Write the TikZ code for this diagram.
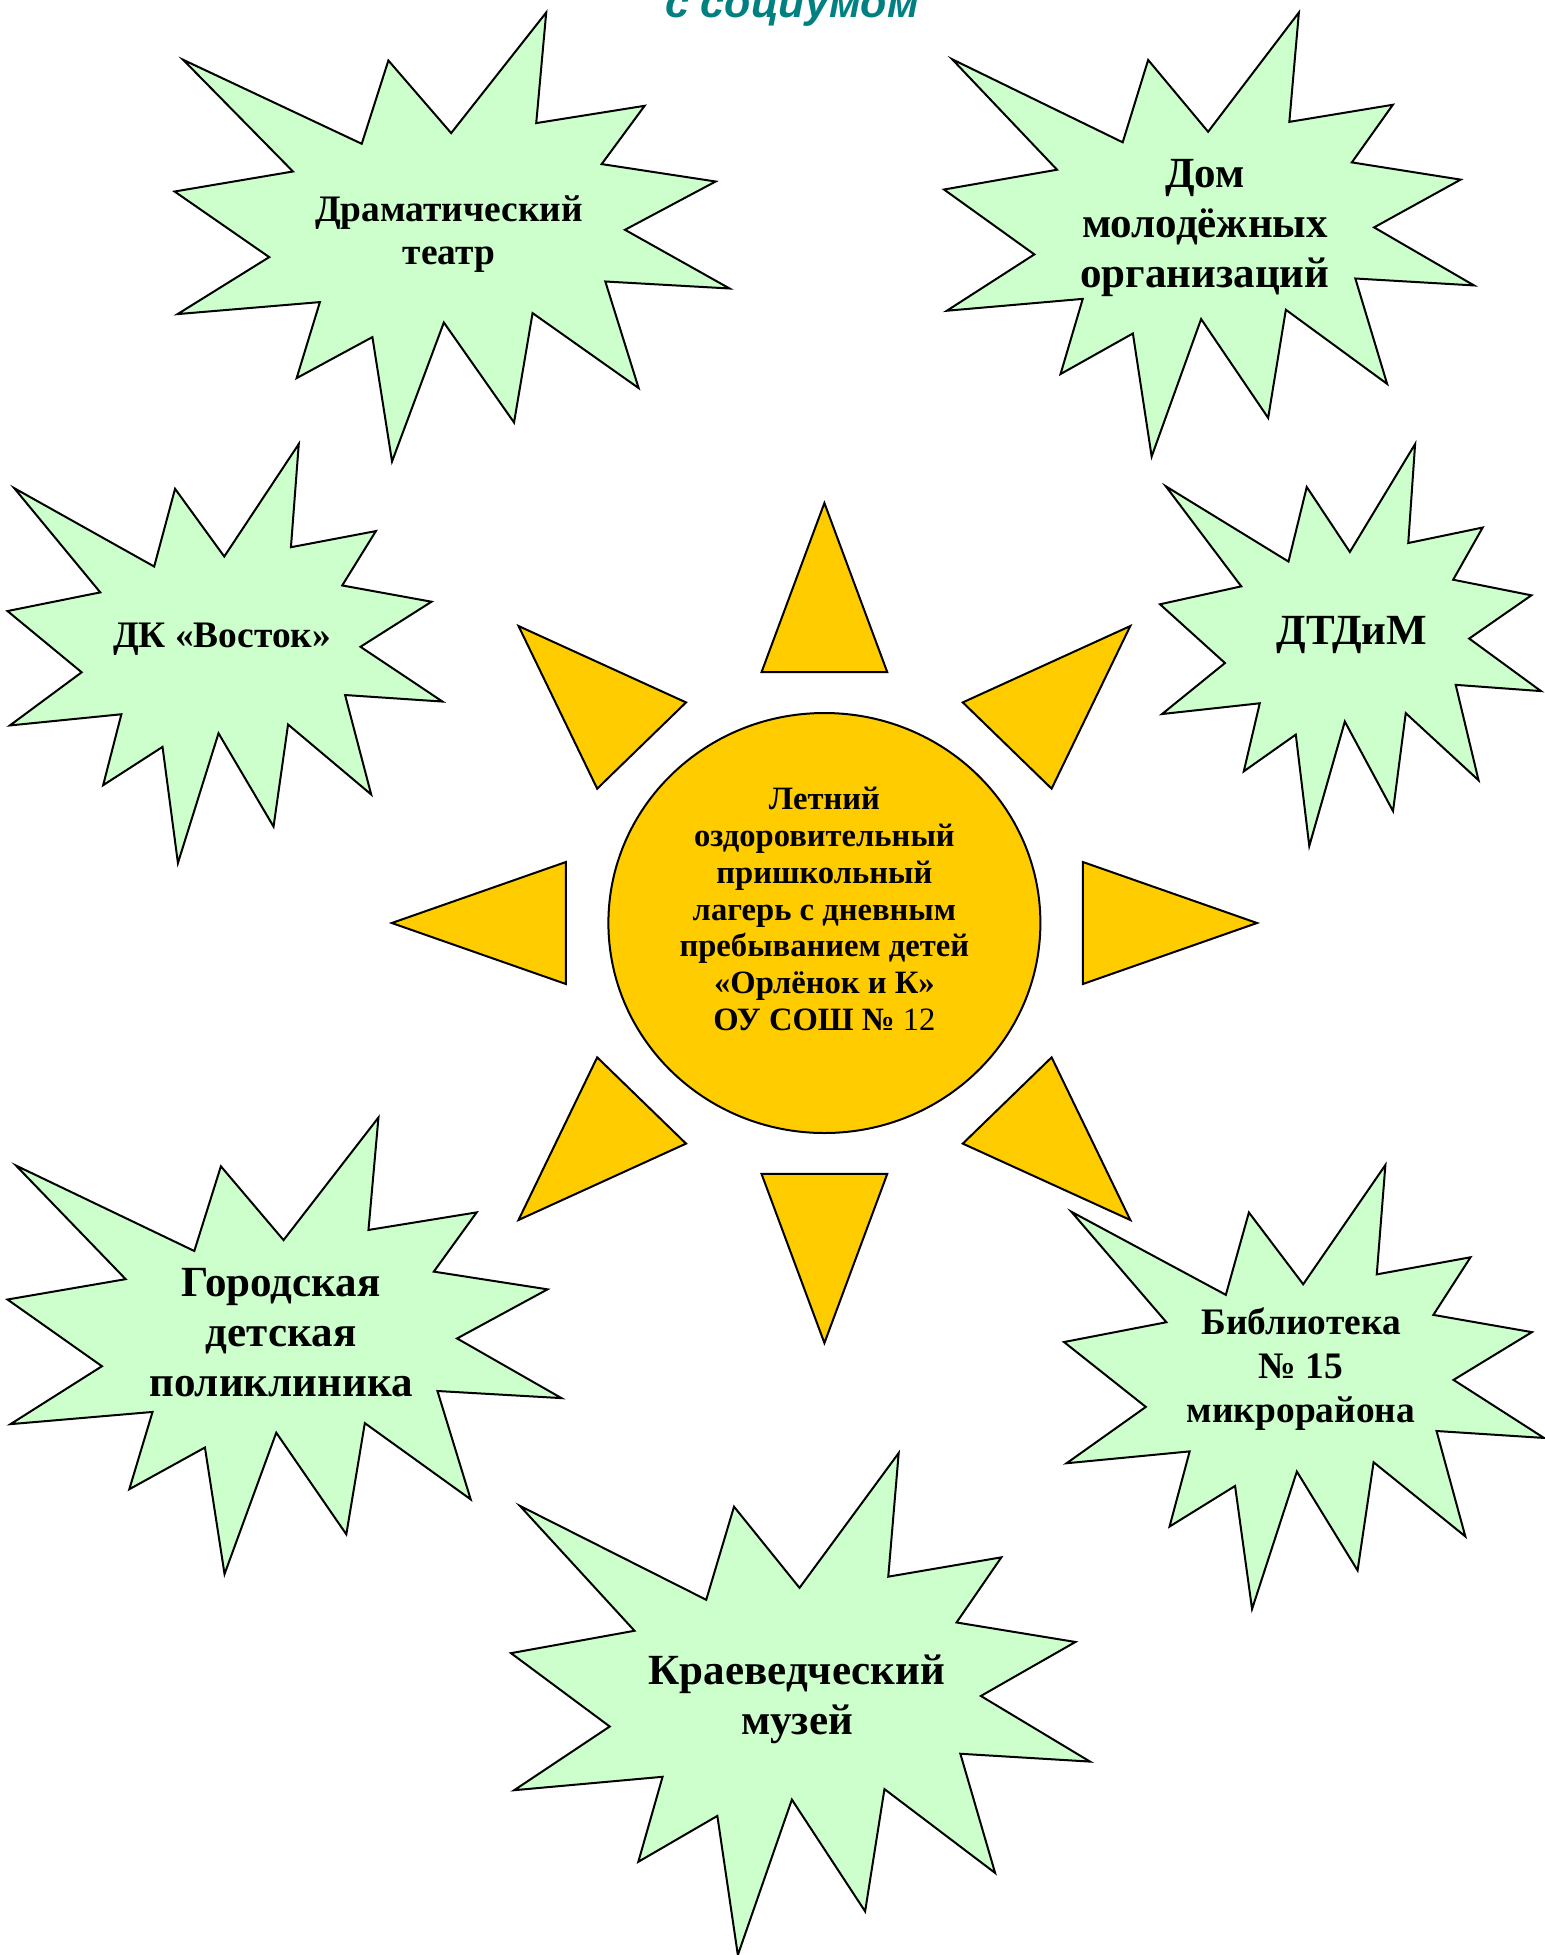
\documentclass[tikz,border=0pt]{standalone}
\usepackage{fontspec}
\setmainfont{Liberation Serif}
\newfontfamily\headfont{Liberation Sans}
\usetikzlibrary{positioning, calc, shapes.geometric}
\definecolor{burstGreen}{HTML}{CCFFCC}
\definecolor{sunYellow}{HTML}{FFCC00}
\definecolor{headTeal}{HTML}{008080}
\tikzstyle{burst} =[draw, fill=burstGreen, line width=1pt]
\tikzstyle{sunray} =[draw, fill=sunYellow, line width=1pt]
\tikzstyle{sunbody} =[ellipse, draw, fill=sunYellow, line width=1pt, minimum width=216pt, minimum height=210pt, inner sep=0pt]
\tikzstyle{bigname} =[align=center, text=black, font={\bfseries\fontsize{21.5}{25}\selectfont}]
\tikzstyle{smallname} =[align=center, text=black, font={\bfseries\fontsize{18.7}{21.9}\selectfont}]
\tikzstyle{campname} =[align=center, text=black, font={\fontsize{16.3}{18.4}\selectfont}]

% explosion outline in a box: x0, y0, width, height
\newcommand{\burstshape}[4]{%
\begin{scope}[shift={(#1,#2)}, xscale=#3, yscale=#4]
\draw[burst] (0.0154,0.1053) -- (0.3372,0.2924) -- (0.3852,0.1069) -- (0.4983,0.2686)
 -- (0.6696,0) -- (0.6516,0.2463) -- (0.8469,0.2078) -- (0.7695,0.3376)
 -- (0.9748,0.3764) -- (0.8115,0.4840) -- (1,0.6147) -- (0.7761,0.5991)
 -- (0.8361,0.8365) -- (0.6450,0.6695) -- (0.6116,0.9131) -- (0.4851,0.6904)
 -- (0.3918,1) -- (0.3564,0.7229) -- (0.2199,0.8143) -- (0.2618,0.6450)
 -- (0.0054,0.6717) -- (0.1705,0.5448) -- (0,0.3987) -- (0.2133,0.3541) -- cycle;
\end{scope}}

\begin{document}
\begin{tikzpicture}[x=0.5pt, y=-0.5pt]
\useasboundingbox (0,0) rectangle (1544,1955);

\node (title) [anchor=base, text=headTeal, font={\headfont\bfseries\itshape\fontsize{21.5}{25}\selectfont}] at (792,17) {с социумом};

% partners
\burstshape{174.6}{12.5}{555}{449}
\node (drama) [smallname] at (449,234) {Драматический\\театр};

\burstshape{944}{12.5}{530}{444}
\node (youth) [bigname] at (1205,228) {Дом\\молодёжных\\организаций};

\burstshape{7.5}{444}{435}{419}
\node (vostok) [smallname] at (222,639) {ДК «Восток»};

\burstshape{1160}{444}{381}{402}
\node (dtdim) [bigname] at (1352,635) {ДТДиМ};

\burstshape{7.5}{1117.5}{554}{456.5}
\node (clinic) [bigname] at (281,1333) {Городская\\детская\\поликлиника};

\burstshape{1064}{1165}{480}{444}
\node (library) [smallname] at (1301,1369) {Библиотека\\№ 15\\микрорайона};

\burstshape{511}{1453}{579}{502}
\node (museum) [bigname] at (797,1699) {Краеведческий\\музей};

% sun
\node (sun) [sunbody] at (824.4,923) {};
\begin{scope}[shift={(sun)}, xscale=1.03]
\draw[sunray] (0:420) -- (13.66:258.3) -- (-13.66:258.3) -- cycle;
\draw[sunray] (45:420) -- (58.66:258.3) -- (31.34:258.3) -- cycle;
\draw[sunray] (90:420) -- (103.66:258.3) -- (76.34:258.3) -- cycle;
\draw[sunray] (135:420) -- (148.66:258.3) -- (121.34:258.3) -- cycle;
\draw[sunray] (180:420) -- (193.66:258.3) -- (166.34:258.3) -- cycle;
\draw[sunray] (225:420) -- (238.66:258.3) -- (211.34:258.3) -- cycle;
\draw[sunray] (270:420) -- (283.66:258.3) -- (256.34:258.3) -- cycle;
\draw[sunray] (315:420) -- (328.66:258.3) -- (301.34:258.3) -- cycle;
\end{scope}
\node (camp) [campname] at ($(sun)+(0,-14)$) {\textbf{Летний}\\\textbf{оздоровительный}\\\textbf{пришкольный}\\\textbf{лагерь с дневным}\\\textbf{пребыванием детей}\\\textbf{«Орлёнок и К»}\\\textbf{ОУ СОШ №} 12};

\end{tikzpicture}
\end{document}
